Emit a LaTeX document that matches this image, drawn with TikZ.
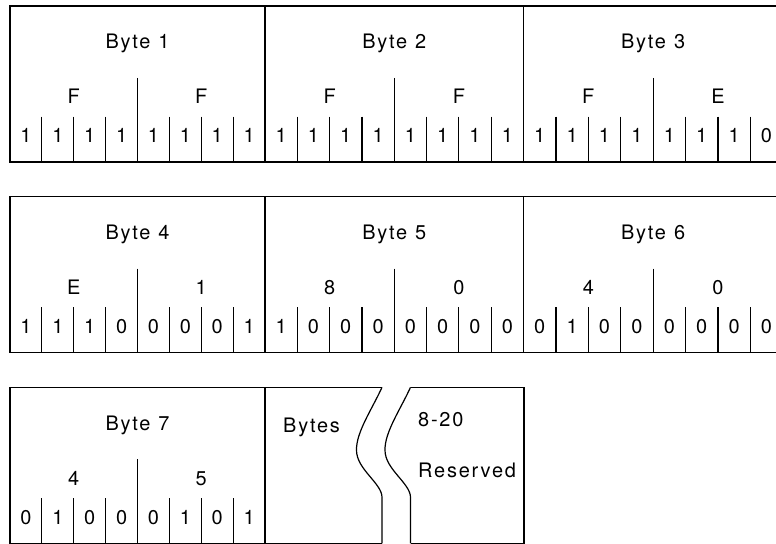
\documentclass[tikz,border=0pt]{standalone}
\usepackage{fontspec}
\setmainfont{TeX Gyre Heros}[LetterSpace=9]

% One byte cell: #1 left, #2 top, #3 width, #4 node name, #5 byte number,
% #6 high nibble, #7 low nibble, #8 the eight bits
\newcommand{\bytebox}[8]{%
  \pgfmathsetmacro{\cellw}{#3/8}
  \draw[frame] (#1,#2) rectangle ++(#3,156);
  \draw[frame] (#1+#3/2,#2+72) -- (#1+#3/2,#2+156);
  \foreach \k in {1,2,3,5,6,7}
    \draw[frame] (#1+\k*\cellw,#2+110.7) -- (#1+\k*\cellw,#2+156);
  \node[lbl] (#4) at (#1+#3/2,#2+43) {Byte\hspace{0.4em}#5};
  \node[lbl] (#4-hi) at (#1+#3/4,#2+98) {#6};
  \node[lbl] (#4-lo) at (#1+3*#3/4,#2+98) {#7};
  \foreach \b [count=\k from 0] in {#8}
    \node[lbl] (#4-bit\k) at (#1+\k*\cellw+\cellw/2,#2+137) {\b};
}

% Torn edge, drawn downward from its top point #1,#2
\newcommand{\tearpath}[2]{%
  (#1,#2) .. controls (#1-10,#2+22) and (#1-26,#2+45) .. (#1-25.5,#2+63)
          .. controls (#1-25.5,#2+82) and (#1,#2+96) .. (#1,#2+110)
          -- (#1,#2+156)}

\begin{document}
\begin{tikzpicture}[x=1bp,y=-1bp,
  frame/.style={draw=black,line width=1.2bp},
  lbl/.style={inner sep=0pt,anchor=base,font=\fontsize{20}{22}\selectfont},
  lbll/.style={lbl,anchor=base west}]
\useasboundingbox (0,0) rectangle (776,544);
\clip (0,0) rectangle (776,544);

% first row
\bytebox{10}{6}{255}{byteA}{1}{F}{F}{1,1,1,1,1,1,1,1}
\bytebox{265}{6}{258.5}{byteB}{2}{F}{F}{1,1,1,1,1,1,1,1}
\bytebox{523.5}{6}{259.2}{byteC}{3}{F}{E}{1,1,1,1,1,1,1,0}

% second row
\bytebox{10}{196.7}{255}{byteD}{4}{E}{1}{1,1,1,0,0,0,0,1}
\bytebox{265}{196.7}{258.5}{byteE}{5}{8}{0}{1,0,0,0,0,0,0,0}
\bytebox{523.5}{196.7}{259.2}{byteF}{6}{4}{0}{0,1,0,0,0,0,0,0}

% third row
\bytebox{10}{387.3}{255}{byteG}{7}{4}{5}{0,1,0,0,0,1,0,1}

% reserved bytes, shown as a torn block
\draw[frame] (382,387.3) -- (265,387.3) -- (265,543.3) -- (382,543.3);
\draw[frame] \tearpath{382}{387.3};
\draw[frame] (410.5,387.3) -- (524,387.3) -- (524,543.3) -- (410.5,543.3);
\draw[frame] \tearpath{410.5}{387.3};

\node[lbll] (bytes) at (283,432) {Bytes};
\node[lbll] (range) at (418,426.7) {8-20};
\node[lbll] (reserved) at (418,477.7) {Reserved};
\end{tikzpicture}
\end{document}
